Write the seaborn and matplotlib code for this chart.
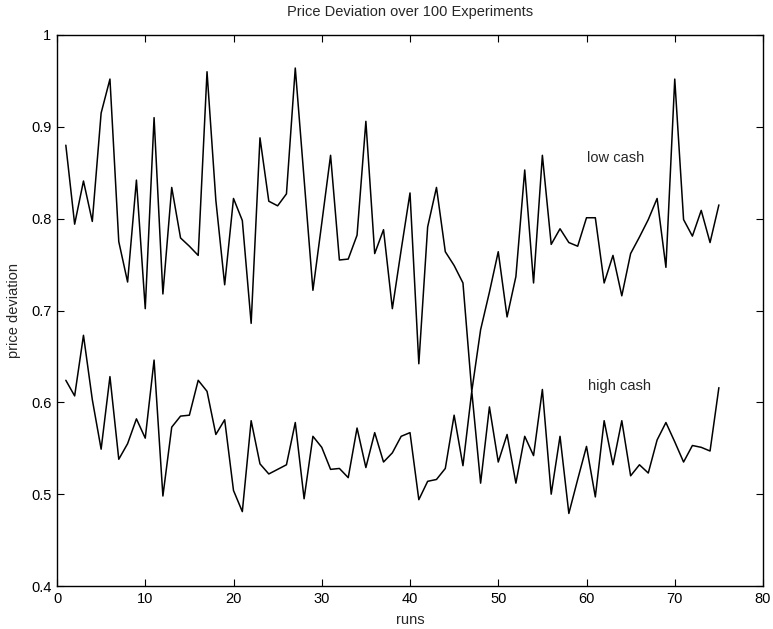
import numpy as np
import pandas as pd
import matplotlib
matplotlib.use("Agg")
import matplotlib.pyplot as plt
import seaborn as sns

runs = list(range(1, 76))
low_cash = [0.880, 0.794, 0.841, 0.797, 0.915, 0.952, 0.775, 0.731, 0.842, 0.702,
            0.910, 0.718, 0.834, 0.779, 0.770, 0.760, 0.960, 0.820, 0.728, 0.822,
            0.798, 0.686, 0.888, 0.819, 0.814, 0.827, 0.964, 0.843, 0.722, 0.795,
            0.869, 0.755, 0.756, 0.782, 0.906, 0.762, 0.788, 0.702, 0.766, 0.828,
            0.642, 0.791, 0.834, 0.764, 0.749, 0.730, 0.612, 0.679, 0.720, 0.764,
            0.693, 0.737, 0.853, 0.730, 0.869, 0.772, 0.789, 0.774, 0.770, 0.801,
            0.801, 0.730, 0.760, 0.716, 0.762, 0.780, 0.799, 0.822, 0.747, 0.952,
            0.799, 0.781, 0.809, 0.774, 0.815]
high_cash = [0.624, 0.607, 0.673, 0.603, 0.549, 0.628, 0.538, 0.555, 0.582, 0.561,
             0.646, 0.498, 0.573, 0.585, 0.586, 0.624, 0.612, 0.565, 0.581, 0.504,
             0.481, 0.580, 0.533, 0.522, 0.527, 0.532, 0.578, 0.495, 0.563, 0.551,
             0.527, 0.528, 0.518, 0.572, 0.529, 0.567, 0.535, 0.545, 0.563, 0.567,
             0.494, 0.514, 0.516, 0.528, 0.586, 0.531, 0.612, 0.512, 0.595, 0.535,
             0.565, 0.512, 0.563, 0.542, 0.614, 0.500, 0.563, 0.479, 0.516, 0.552,
             0.497, 0.580, 0.532, 0.580, 0.520, 0.532, 0.523, 0.559, 0.578, 0.557,
             0.535, 0.553, 0.551, 0.547, 0.616]
x_ticks = [0, 10, 20, 30, 40, 50, 60, 70, 80]
y_ticks = [0.4, 0.5, 0.6, 0.7, 0.8, 0.9, 1.0]
y_tick_labels = ["0.4", "0.5", "0.6", "0.7", "0.8", "0.9", "1"]
title = "Price Deviation over 100 Experiments"
x_label = "runs"
y_label = "price deviation"
series_labels = ["low cash", "high cash"]

sns.set_theme(style="white")
plt.rcParams["font.family"] = ["Liberation Sans", "DejaVu Sans"]
plt.rcParams["xtick.direction"] = "in"
plt.rcParams["ytick.direction"] = "in"

df = pd.DataFrame({
    "run": runs * 2,
    "value": low_cash + high_cash,
    "series": [series_labels[0]] * len(runs) + [series_labels[1]] * len(runs),
})

fig = plt.figure(figsize=(7.73, 6.29), dpi=100)
ax = fig.add_axes([57 / 773, 43 / 629, 706 / 773, 551 / 629])

sns.lineplot(data=df, x="run", y="value", units="series", estimator=None,
             color="black", linewidth=1.1, ax=ax, legend=False)

ax.set_xlim(0, 80)
ax.set_ylim(0.4, 1.0)
ax.set_xticks(x_ticks)
ax.set_yticks(y_ticks)
ax.set_yticklabels(y_tick_labels)
ax.tick_params(axis="both", which="major", direction="in", length=5, width=0.8,
               labelsize=10.5, colors="black", top=True, right=True,
               bottom=True, left=True, pad=4)
for s in ax.spines.values():
    s.set_visible(True)
    s.set_color("black")
    s.set_linewidth(1.0)

ax.set_title(title, fontsize=10.5, pad=14)
ax.set_xlabel(x_label, fontsize=10.5, labelpad=5)
ax.set_ylabel(y_label, fontsize=10.5, labelpad=7)

ax.text(60.0, 0.866, series_labels[0], fontsize=10.5, ha="left", va="center")
ax.text(60.2, 0.618, series_labels[1], fontsize=10.5, ha="left", va="center")

fig.savefig("out.png", dpi=100, facecolor="white")
